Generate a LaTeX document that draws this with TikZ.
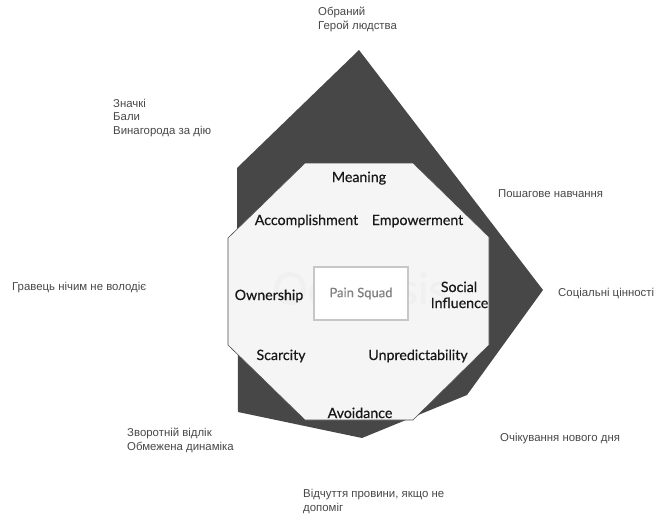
\documentclass[tikz,border=0pt]{standalone}
\usepackage{fontspec}
\setmainfont{Liberation Sans}
\newfontfamily\drivefont[FakeBold=0.5]{Lato}
\usetikzlibrary{positioning}

\begin{document}
\begin{tikzpicture}[x=1pt, y=-1pt,
    note/.style={align=left, anchor=base west, inner sep=0pt, text=black!72,
                 font=\fontsize{11.4}{13.5}\selectfont},
    drive/.style={anchor=base, inner sep=0pt, text=black!90,
                  font=\drivefont\fontsize{14.2}{16}\selectfont}]
                \useasboundingbox (0,0) rectangle (658,514);
                % profile of the game
                \fill[black!72] (359,50) -- (543,290) -- (467,395) -- (362,438)
                    -- (238,412) -- (237,168) -- cycle;
                % octagon
                \filldraw[fill=black!4, draw=black!70, semithick] (305,163) -- (413,163)
                    -- (489,237) -- (489,345) -- (413,420) -- (305,420) -- (228,345)
                    -- (228,238) -- cycle;
                \node[text=black!6, font=\drivefont\fontsize{44}{44}\selectfont] (mark) at (360,292) {Octalysis};
                \node[draw=black!22, line width=1.3pt, fill=white, minimum width=94pt,
                      minimum height=53pt, text=black!50,
                      font=\drivefont\fontsize{13}{14}\selectfont] (squad) at (361,293.5) {Pain Squad};
                \foreach \name/\x/\y/\txt in {meaning/359/182/Meaning,
                        accomplish/306.5/225/Accomplishment, empower/417.5/225/Empowerment,
                        owner/269/300/Ownership, scarcity/281/360/Scarcity,
                        unpredict/418/360/Unpredictability, avoid/360/418/Avoidance}
                    \node[drive] (\name) at (\x,\y) {\txt};
                \node[drive] (social) at (459,292) {Social};
                \node[drive] (influence) at (459.5,308) {Influence};
                % notes round the octagon (base = last line)
                \node[note] (epic) at (318,29) {Обраний\\Герой людства};
                \node[note] (points) at (113,134) {Значкі\\Бали\\Винагорода за дію};
                \node[note] (steps) at (498,197) {Пошагове навчання};
                \node[note] (owns) at (12,290) {Гравець нічим не володіє};
                \node[note] (values) at (558,296) {Соціальні цінності};
                \node[note] (countdown) at (127,450) {Зворотній відлік\\Обмежена динаміка};
                \node[note] (newday) at (500,441) {Очікування нового дня};
                \node[note] (guilt) at (303,511) {Відчуття провини, якщо не\\допоміг};
            \end{tikzpicture}
\end{document}
